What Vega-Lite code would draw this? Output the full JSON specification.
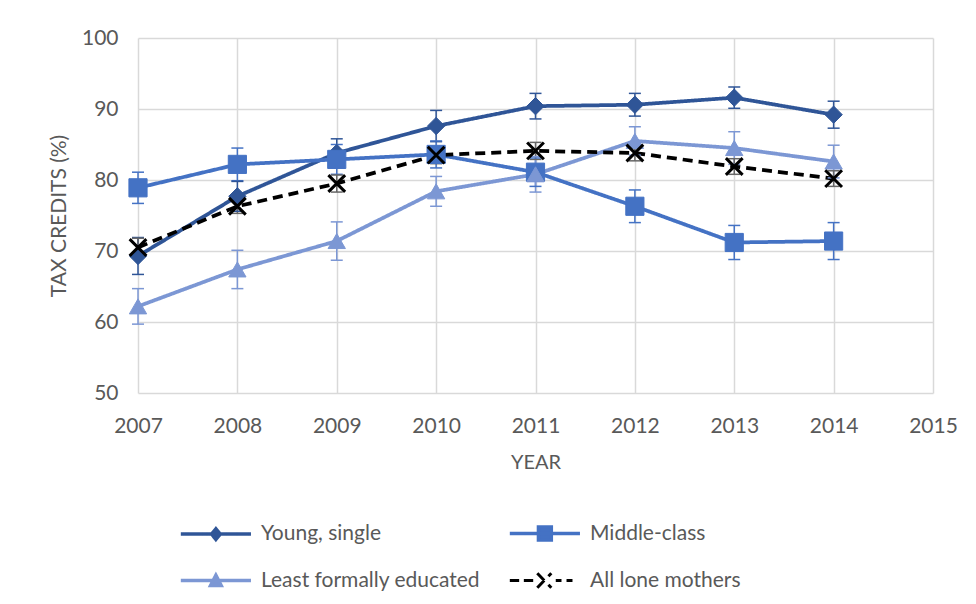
{
  "$schema": "https://vega.github.io/schema/vega-lite/v6.json",
  "width": 795,
  "height": 355,
  "autosize": {"type": "none"},
  "padding": {"left": 138, "top": 38, "right": 43, "bottom": 211},
  "background": "white",
  "config": {
    "font": "Lato",
    "view": {"stroke": null},
    "axis": {
      "grid": true,
      "gridColor": "#D9D9D9",
      "gridWidth": 1.5,
      "domain": false,
      "ticks": false,
      "labelFont": "Lato",
      "labelFontSize": 21,
      "labelColor": "#595959",
      "titleFont": "Lato",
      "titleFontSize": 20,
      "titleFontWeight": "normal",
      "titleColor": "#595959"
    }
  },
  "data": {
    "values": [
      {"series": "Young, single", "year": 2007, "value": 69.3, "lo": 66.7, "hi": 71.9},
      {"series": "Young, single", "year": 2008, "value": 77.7, "lo": 75.6, "hi": 79.8},
      {"series": "Young, single", "year": 2009, "value": 83.8, "lo": 81.8, "hi": 85.8},
      {"series": "Young, single", "year": 2010, "value": 87.6, "lo": 85.4, "hi": 89.8},
      {"series": "Young, single", "year": 2011, "value": 90.4, "lo": 88.6, "hi": 92.2},
      {"series": "Young, single", "year": 2012, "value": 90.6, "lo": 89.0, "hi": 92.2},
      {"series": "Young, single", "year": 2013, "value": 91.6, "lo": 90.1, "hi": 93.1},
      {"series": "Young, single", "year": 2014, "value": 89.2, "lo": 87.3, "hi": 91.1},
      {"series": "Middle-class", "year": 2007, "value": 78.9, "lo": 76.7, "hi": 81.1},
      {"series": "Middle-class", "year": 2008, "value": 82.2, "lo": 79.9, "hi": 84.5},
      {"series": "Middle-class", "year": 2009, "value": 82.9, "lo": 80.8, "hi": 85.0},
      {"series": "Middle-class", "year": 2010, "value": 83.6, "lo": 81.7, "hi": 85.5},
      {"series": "Middle-class", "year": 2011, "value": 81.1, "lo": 79.1, "hi": 83.1},
      {"series": "Middle-class", "year": 2012, "value": 76.3, "lo": 74.0, "hi": 78.6},
      {"series": "Middle-class", "year": 2013, "value": 71.2, "lo": 68.8, "hi": 73.6},
      {"series": "Middle-class", "year": 2014, "value": 71.4, "lo": 68.8, "hi": 74.0},
      {"series": "Least formally educated", "year": 2007, "value": 62.2, "lo": 59.7, "hi": 64.7},
      {"series": "Least formally educated", "year": 2008, "value": 67.4, "lo": 64.7, "hi": 70.1},
      {"series": "Least formally educated", "year": 2009, "value": 71.4, "lo": 68.7, "hi": 74.1},
      {"series": "Least formally educated", "year": 2010, "value": 78.4, "lo": 76.3, "hi": 80.5},
      {"series": "Least formally educated", "year": 2011, "value": 80.8, "lo": 78.3, "hi": 83.3},
      {"series": "Least formally educated", "year": 2012, "value": 85.5, "lo": 83.5, "hi": 87.5},
      {"series": "Least formally educated", "year": 2013, "value": 84.5, "lo": 82.2, "hi": 86.8},
      {"series": "Least formally educated", "year": 2014, "value": 82.6, "lo": 80.3, "hi": 84.9},
      {"series": "All lone mothers", "year": 2007, "value": 70.5, "lo": 69.2, "hi": 71.8},
      {"series": "All lone mothers", "year": 2008, "value": 76.3, "lo": 75.3, "hi": 77.3},
      {"series": "All lone mothers", "year": 2009, "value": 79.5, "lo": 78.3, "hi": 80.7},
      {"series": "All lone mothers", "year": 2010, "value": 83.5, "lo": 82.3, "hi": 84.7},
      {"series": "All lone mothers", "year": 2011, "value": 84.1, "lo": 82.9, "hi": 85.3},
      {"series": "All lone mothers", "year": 2012, "value": 83.8, "lo": 82.7, "hi": 84.9},
      {"series": "All lone mothers", "year": 2013, "value": 81.9, "lo": 80.8, "hi": 83.0},
      {"series": "All lone mothers", "year": 2014, "value": 80.2, "lo": 79.1, "hi": 81.3}
    ]
  },
  "encoding": {
    "x": {
      "field": "year",
      "type": "quantitative",
      "scale": {"domain": [2007, 2015], "nice": false, "zero": false},
      "axis": {
        "title": "YEAR",
        "values": [2007, 2008, 2009, 2010, 2011, 2012, 2013, 2014, 2015],
        "format": "d",
        "labelFlush": false,
        "labelPadding": 22,
        "titlePadding": 16
      }
    }
  },
  "layer": [
    {
      "mark": {"type": "line", "strokeWidth": 3.75, "strokeCap": "butt"},
      "encoding": {
        "y": {
          "field": "value",
          "type": "quantitative",
          "scale": {"domain": [50, 100], "nice": false, "zero": false},
          "axis": {
            "title": "TAX CREDITS (%)",
            "values": [50, 60, 70, 80, 90, 100],
            "labelPadding": 20,
            "titlePadding": 12,
            "titleFontSize": 21
          }
        },
        "color": {
          "field": "series",
          "type": "nominal",
          "sort": null,
          "scale": {
            "domain": ["Young, single", "Middle-class", "Least formally educated", "All lone mothers"],
            "range": ["#2F5597", "#4472C4", "#7C97D4", "#000000"]
          },
          "legend": {
            "orient": "none",
            "legendX": 44,
            "legendY": 485,
            "columns": 2,
            "direction": "horizontal",
            "title": null,
            "labelFont": "Lato",
            "labelFontSize": 21,
            "labelColor": "#595959",
            "labelLimit": 400,
            "symbolSize": 547,
            "symbolStrokeWidth": 3.5,
            "labelOffset": 58,
            "rowPadding": 20,
            "columnPadding": 21,
            "encode": {
              "symbols": {
                "update": {
                  "shape": {"signal": "datum.value === 'Young, single' ? 'M-1,0H5M2,-0.45L2.37,0L2,0.45L1.63,0Z' : datum.value === 'Middle-class' ? 'M-1,0H5M1.45,-0.55H2.55V0.55H1.45Z' : datum.value === 'Least formally educated' ? 'M-1,0H5M2,-0.45L2.45,0.42H1.55Z' : 'M-1,0H-0.2M0.2,0H1M1.35,-0.62L2.55,0.62M1.35,0.62L2.55,-0.62M2.93,0H3.42M3.85,0H4.36'"},
                  "fill": {"scale": "color", "field": "value"},
                  "stroke": {"scale": "color", "field": "value"},
                  "strokeWidth": {"signal": "datum.value === 'All lone mothers' ? 3 : 3.5"},
                  "strokeDash": {"value": []},
                  "opacity": {"value": 1}
                }
              }
            }
          }
        },
        "strokeDash": {
          "field": "series",
          "type": "nominal",
          "sort": null,
          "scale": {
            "domain": ["Young, single", "Middle-class", "Least formally educated", "All lone mothers"],
            "range": [[1, 0], [1, 0], [1, 0], [10, 6]]
          },
          "legend": null
        }
      }
    },
    {
      "mark": {"type": "rule", "strokeWidth": 1.5},
      "encoding": {
        "y": {"field": "lo", "type": "quantitative"},
        "y2": {"field": "hi"},
        "stroke": {
          "field": "series",
          "type": "nominal",
          "sort": null,
          "scale": {
            "domain": ["Young, single", "Middle-class", "Least formally educated", "All lone mothers"],
            "range": ["#2F5597", "#4472C4", "#7C97D4", "#666666"]
          },
          "legend": null
        }
      }
    },
    {
      "mark": {"type": "rule", "strokeWidth": 1.5, "xOffset": -6, "x2Offset": 6},
      "encoding": {
        "x2": {"field": "year"},
        "y": {"field": "lo", "type": "quantitative"},
        "stroke": {"field": "series", "type": "nominal", "sort": null, "legend": null}
      }
    },
    {
      "mark": {"type": "rule", "strokeWidth": 1.5, "xOffset": -6, "x2Offset": 6},
      "encoding": {
        "x2": {"field": "year"},
        "y": {"field": "hi", "type": "quantitative"},
        "stroke": {"field": "series", "type": "nominal", "sort": null, "legend": null}
      }
    },
    {
      "transform": [{"filter": "datum.series === 'Young, single'"}],
      "mark": {"type": "point", "shape": "diamond", "filled": true, "size": 300, "opacity": 1, "strokeWidth": 1},
      "encoding": {
        "y": {"field": "value", "type": "quantitative"},
        "color": {"field": "series", "type": "nominal", "sort": null, "legend": null},
        "stroke": {"field": "series", "type": "nominal", "sort": null, "legend": null}
      }
    },
    {
      "transform": [{"filter": "datum.series === 'Middle-class'"}],
      "mark": {"type": "point", "shape": "square", "filled": true, "size": 330, "opacity": 1, "strokeWidth": 1},
      "encoding": {
        "y": {"field": "value", "type": "quantitative"},
        "color": {"field": "series", "type": "nominal", "sort": null, "legend": null},
        "stroke": {"field": "series", "type": "nominal", "sort": null, "legend": null}
      }
    },
    {
      "transform": [{"filter": "datum.series === 'Least formally educated'"}],
      "mark": {"type": "point", "shape": "triangle-up", "filled": true, "size": 300, "opacity": 1, "strokeWidth": 1},
      "encoding": {
        "y": {"field": "value", "type": "quantitative"},
        "color": {"field": "series", "type": "nominal", "sort": null, "legend": null},
        "stroke": {"field": "series", "type": "nominal", "sort": null, "legend": null}
      }
    },
    {
      "transform": [{"filter": "datum.series === 'All lone mothers'"}],
      "mark": {"type": "point", "shape": "M-1,-1L1,1M-1,1L1,-1", "filled": false, "size": 280, "opacity": 1, "strokeWidth": 3, "stroke": "#000000"},
      "encoding": {
        "y": {"field": "value", "type": "quantitative"}
      }
    }
  ]
}
